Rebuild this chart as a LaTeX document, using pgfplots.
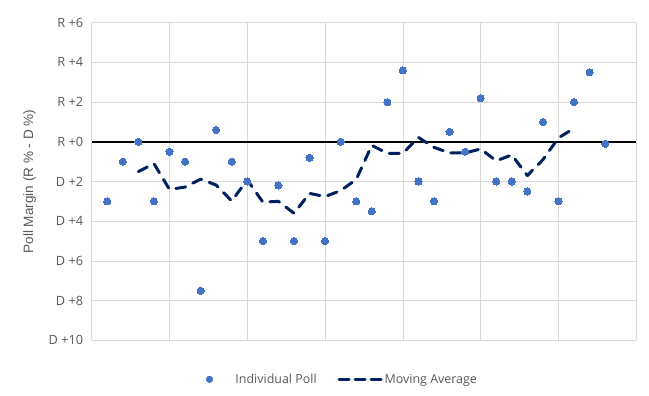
\documentclass[border=0pt]{standalone}
\usepackage{pgfplots}
\pgfplotsset{compat=1.18}
\usepackage{fontspec}
\setmainfont{Open Sans}
\newfontfamily\labelfont{Liberation Sans}
\definecolor{pollblue}{HTML}{4472C4}
\definecolor{navy}{HTML}{002060}
\definecolor{txtgray}{HTML}{595959}
\definecolor{gridgray}{HTML}{D9D9D9}
\begin{document}
\begin{tikzpicture}
\path[use as bounding box] (-91.7bp,-55.7bp) rectangle (557.3bp,340.3bp);
\begin{axis}[
  at={(0,0)}, anchor=south west,
  scale only axis, width=544.6bp, height=317.6bp,
  xmin=0, xmax=35, ymin=-10, ymax=6,
  xtick={0,5,...,35}, xticklabels={},
  ytick={-10,-8,...,6},
  yticklabels={D +10,D +8,D +6,D +4,D +2,R +0,R +2,R +4,R +6},
  major tick length=0pt,
  grid=major,
  major grid style={gridgray, line width=0.8bp},
  axis line style={draw=none},
  extra y ticks={0}, extra y tick labels={},
  extra y tick style={grid=major, major grid style={black, line width=1.6bp}},
  tick label style={font=\fontsize{12.8}{15}\selectfont, text=txtgray},
  yticklabel style={xshift=-5bp},
  ylabel={Poll Margin (R \% - D \%)},
  every axis y label/.style={at={(axis description cs:-0.114,0.5)}, rotate=90, anchor=center, font=\labelfont\fontsize{13.6}{16}\selectfont, text=txtgray},
  legend columns=2,
  legend style={at={(0.46,-0.123)}, anchor=center, draw=none, fill=none,
    font=\fontsize{12.5}{14}\selectfont, text=txtgray,
    /tikz/every even column/.append style={column sep=19bp}},
]
\addplot[pollblue, only marks, mark=*, mark size=3.6bp, mark options={fill=pollblue, draw=pollblue, line width=0pt},
  legend image code/.code={\path[draw=none] (-4bp,0) -- (24bp,0); \fill[pollblue, draw=none] (0bp,0) circle (3.6bp);}]
coordinates {
(1,-3) (2,-1) (3,0) (4,-3) (5,-0.5) (6,-1) (7,-7.5) (8,0.6) (9,-1) (10,-2)
(11,-5) (12,-2.2) (13,-5) (14,-0.8) (15,-5) (16,0) (17,-3) (18,-3.5) (19,2) (20,3.6)
(21,-2) (22,-3) (23,0.5) (24,-0.5) (25,2.2) (26,-2) (27,-2) (28,-2.5) (29,1) (30,-3)
(31,2) (32,3.5) (33,-0.1)
};
\addlegendentry{Individual Poll}
\addplot[navy, line width=3bp, line cap=round, line join=round, dash pattern=on 10bp off 8bp, mark=none,
  legend image code/.code={\draw[navy, line width=3bp, line cap=round, dash pattern=on 10bp off 6bp] (1.5bp,0) -- (43.5bp,0);}]
coordinates {
(3,-1.5) (4,-1.1) (5,-2.4) (6,-2.28) (7,-1.88) (8,-2.18) (9,-2.98) (10,-1.92)
(11,-3.04) (12,-3.0) (13,-3.6) (14,-2.6) (15,-2.76) (16,-2.46) (17,-1.9) (18,-0.18)
(19,-0.58) (20,-0.58) (21,0.22) (22,-0.28) (23,-0.56) (24,-0.56) (25,-0.36) (26,-0.96)
(27,-0.66) (28,-1.7) (29,-0.9) (30,0.2) (31,0.68)
};
\addlegendentry{Moving Average}
\end{axis}
\end{tikzpicture}
\end{document}
